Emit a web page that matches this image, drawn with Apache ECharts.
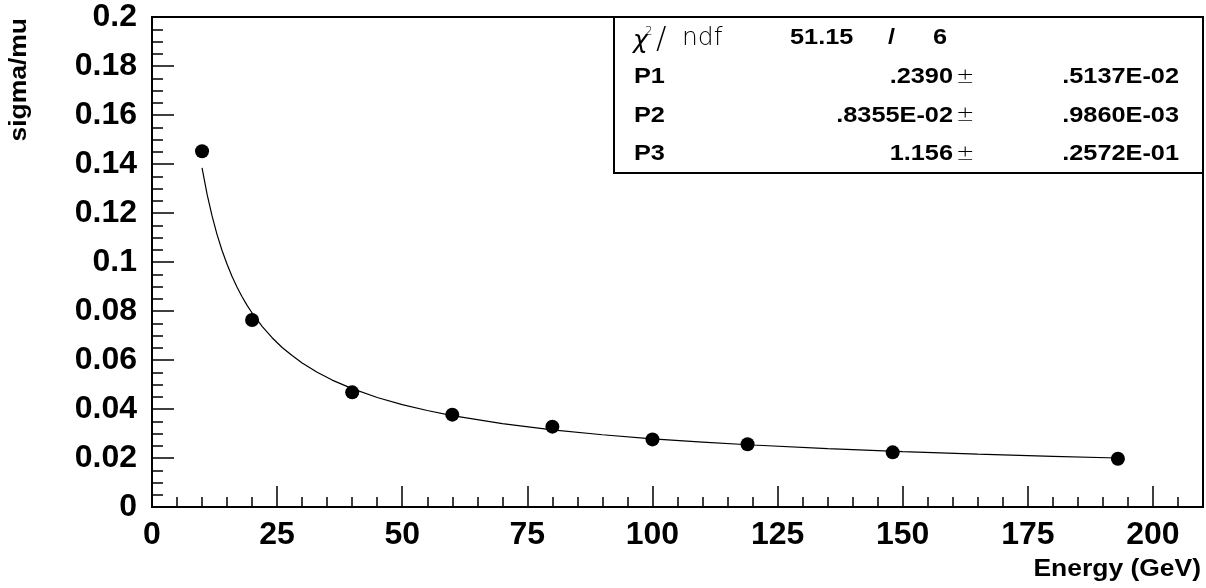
<!DOCTYPE html>
<html>
<head>
<meta charset="utf-8">
<script src="https://cdn.jsdelivr.net/npm/echarts@6/dist/echarts.min.js"></script>
<style>html,body{margin:0;padding:0;background:#fff;}#c{width:1206px;height:588px;}</style>
</head>
<body>
<div id="c"></div>
<script>
// Data points
const energy = [10, 20, 40, 60, 80, 100, 119, 148, 193];
const sigmaMu = [0.1452, 0.0763, 0.0468, 0.0377, 0.0328, 0.0276, 0.0256, 0.0223, 0.0197];
// Fit curve samples
const fitE = [10, 11, 12, 13, 14, 15, 16, 17, 18, 19, 20, 22, 24, 26, 28, 30, 33, 36, 40, 45, 50, 55, 60, 70, 80, 90, 100, 110, 120, 135, 150, 165, 180, 193];
const fitSigma = [0.1384, 0.1277, 0.1188, 0.1112, 0.1047, 0.0991, 0.0941, 0.0897, 0.0858, 0.0823, 0.0792, 0.0737, 0.0691, 0.0651, 0.0618, 0.0588, 0.0550, 0.0518, 0.0483, 0.0447, 0.0418, 0.0394, 0.0373, 0.0340, 0.0315, 0.0295, 0.0278, 0.0265, 0.0253, 0.0238, 0.0226, 0.0216, 0.0207, 0.0200];
// Stat box text
const parNames = ['P1', 'P2', 'P3'];
const parValues = ['.2390', '.8355E-02', '1.156'];
const parErrors = ['.5137E-02', '.9860E-03', '.2572E-01'];
const chi2 = '51.15';
const ndf = '6';
const xTitle = 'Energy (GeV)';
const yTitle = 'sigma/mu';

const FONT = '"Liberation Sans", Arial, Helvetica, sans-serif';
const THIN = '"DejaVu Sans", sans-serif';

const chart = echarts.init(document.getElementById('c'), null, {renderer: 'canvas'});

const graphics = [];
graphics.push({type: 'rect', shape: {x: 614, y: 17, width: 589, height: 156}, style: {fill: '#fff', stroke: '#000', lineWidth: 2}, z: 100});
const txt = (t, x, y, opts, sx) => ({type: 'text', x: x, y: y, scaleX: sx == null ? 1.15 : sx, z: 101,
  style: Object.assign({text: t, fill: '#000', font: 'bold 22px ' + FONT, align: 'left', verticalAlign: 'middle'}, opts || {})});
graphics.push(txt('\u03c7', 633, 41, {font: 'italic 200 25px ' + THIN}, 1));
graphics.push(txt('2', 645, 32, {font: '200 12px ' + THIN}, 1));
graphics.push(txt('/', 656, 40, {font: '200 31px ' + THIN}, 1));
graphics.push(txt('ndf', 682, 38, {font: '200 25px ' + THIN}, 1));
graphics.push(txt(chi2, 790, 38));
graphics.push(txt('/', 888, 38));
graphics.push(txt(ndf, 947, 38, {align: 'right'}));
const rowY = [77, 115.5, 154];
parNames.forEach((n, i) => {
  graphics.push(txt(n, 634, rowY[i]));
  graphics.push(txt(parValues[i], 953, rowY[i], {align: 'right'}));
  graphics.push(txt('\u00b1', 956, rowY[i], {font: '200 22px ' + THIN}, 1));
  graphics.push(txt(parErrors[i], 1179, rowY[i], {align: 'right'}));
});
graphics.push({type: 'text', x: 1201, y: 570, scaleX: 1.15, style: {text: xTitle, fill: '#000', font: 'bold 23px ' + FONT, align: 'right', verticalAlign: 'middle'}});
graphics.push({type: 'text', x: 20, y: 18, rotation: Math.PI / 2, scaleX: 1.15, style: {text: yTitle, fill: '#000', font: 'bold 23px ' + FONT, align: 'right', verticalAlign: 'middle'}});

const option = {
  animation: false,
  backgroundColor: '#fff',
  grid: {left: 152, right: 3, top: 17, bottom: 81, show: true, borderColor: '#000', borderWidth: 2, backgroundColor: '#fff'},
  xAxis: [
    {
      type: 'value', min: 0, max: 210, interval: 25, position: 'bottom',
      axisLine: {show: true, lineStyle: {color: '#000', width: 2}},
      axisTick: {show: true, inside: true, length: 21, lineStyle: {color: '#000', width: 1.5}},
      axisLabel: {color: '#000', fontFamily: FONT, fontWeight: 'bold', fontSize: 32, margin: 12,
        formatter: v => (v % 25 === 0 ? String(v) : '')},
      splitLine: {show: false}
    },
    {
      type: 'value', min: 0, max: 210, interval: 5, position: 'bottom',
      axisLine: {show: false},
      axisTick: {show: true, inside: true, length: 10, lineStyle: {color: '#000', width: 1.5}},
      axisLabel: {show: false},
      splitLine: {show: false}
    }
  ],
  yAxis: {
    type: 'value', min: 0, max: 0.2, interval: 0.02,
    axisLine: {show: true, lineStyle: {color: '#000', width: 2}},
    axisTick: {show: true, inside: true, length: 22, lineStyle: {color: '#000', width: 1.5}},
    minorTick: {show: true, splitNumber: 4, length: 11, lineStyle: {color: '#000', width: 1.5}},
    axisLabel: {color: '#000', fontFamily: FONT, fontWeight: 'bold', fontSize: 32, margin: 15},
    splitLine: {show: false},
    minorSplitLine: {show: false}
  },
  series: [
    {
      type: 'line', xAxisIndex: 0,
      data: fitE.map((e, i) => [e, fitSigma[i]]),
      showSymbol: false, smooth: false,
      lineStyle: {color: '#000', width: 1.2}, z: 2
    },
    {
      type: 'scatter', xAxisIndex: 0,
      data: energy.map((e, i) => [e, sigmaMu[i]]),
      symbol: 'circle', symbolSize: 14,
      itemStyle: {color: '#000', opacity: 1}, z: 3
    }
  ],
  graphic: graphics
};
chart.setOption(option);
</script>
</body>
</html>
